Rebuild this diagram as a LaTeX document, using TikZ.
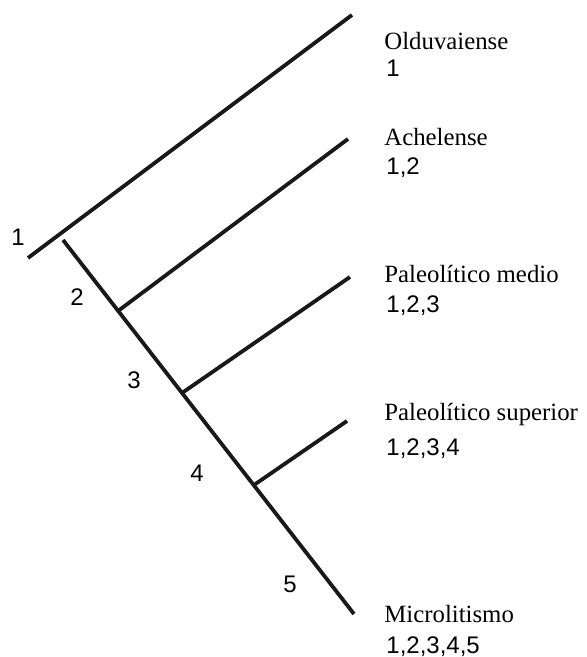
\documentclass[tikz,border=0pt]{standalone}
\usepackage{fontspec}
\setmainfont{Liberation Serif}
\newfontfamily\numfont{Liberation Sans}
\tikzset{
    rama/.style={line width=1.9pt, black!90},
    periodo/.style={anchor=base west, inner sep=0pt, font=\fontsize{12.4}{14}\selectfont},
    rasgo/.style={anchor=base west, inner sep=0pt, font=\numfont\fontsize{12}{14}\selectfont},
    nivel/.style={inner sep=0pt, font=\numfont\fontsize{12}{14}\selectfont}
}

\begin{document}
\begin{tikzpicture}[x=0.5pt, y=-0.5pt]
            \useasboundingbox (0,0) rectangle (586,657);
            % tronco y ramas
            \coordinate (raiz) at (28,258);
            \coordinate (f1) at (352,15);
            \coordinate (t0) at (63,240);
            \coordinate (f5) at (354,614);
            \coordinate (j2) at (118,311);
            \coordinate (f2) at (348,139);
            \coordinate (j3) at (182,393);
            \coordinate (f3) at (350,277);
            \coordinate (j4) at (254,485);
            \coordinate (f4) at (347,421);
            \draw[rama] (raiz) -- (f1);
            \draw[rama] (t0) -- (f5);
            \foreach \j in {2,3,4}{
                \draw[rama] (j\j) -- (f\j);
            }
            % niveles
            \foreach \i/\x/\y in {1/18/237,2/77/297,3/134/380,4/197/473,5/290/584}{
                \node[nivel] (n\i) at (\x,\y) {\i};
            }
            % periodos
            \node[periodo] (p1) at (384,50) {Olduvaiense};
            \node[rasgo] (r1) at (386,77) {1};
            \node[periodo] (p2) at (384,146) {Achelense};
            \node[rasgo] (r2) at (386,175) {1,2};
            \node[periodo] (p3) at (384,283) {Paleolítico medio};
            \node[rasgo] (r3) at (386,313) {1,2,3};
            \node[periodo] (p4) at (384,420) {Paleolítico superior};
            \node[rasgo] (r4) at (386,455) {1,2,3,4};
            \node[periodo] (p5) at (384,622) {Microlitismo};
            \node[rasgo] (r5) at (386,653) {1,2,3,4,5};
        \end{tikzpicture}
\end{document}
